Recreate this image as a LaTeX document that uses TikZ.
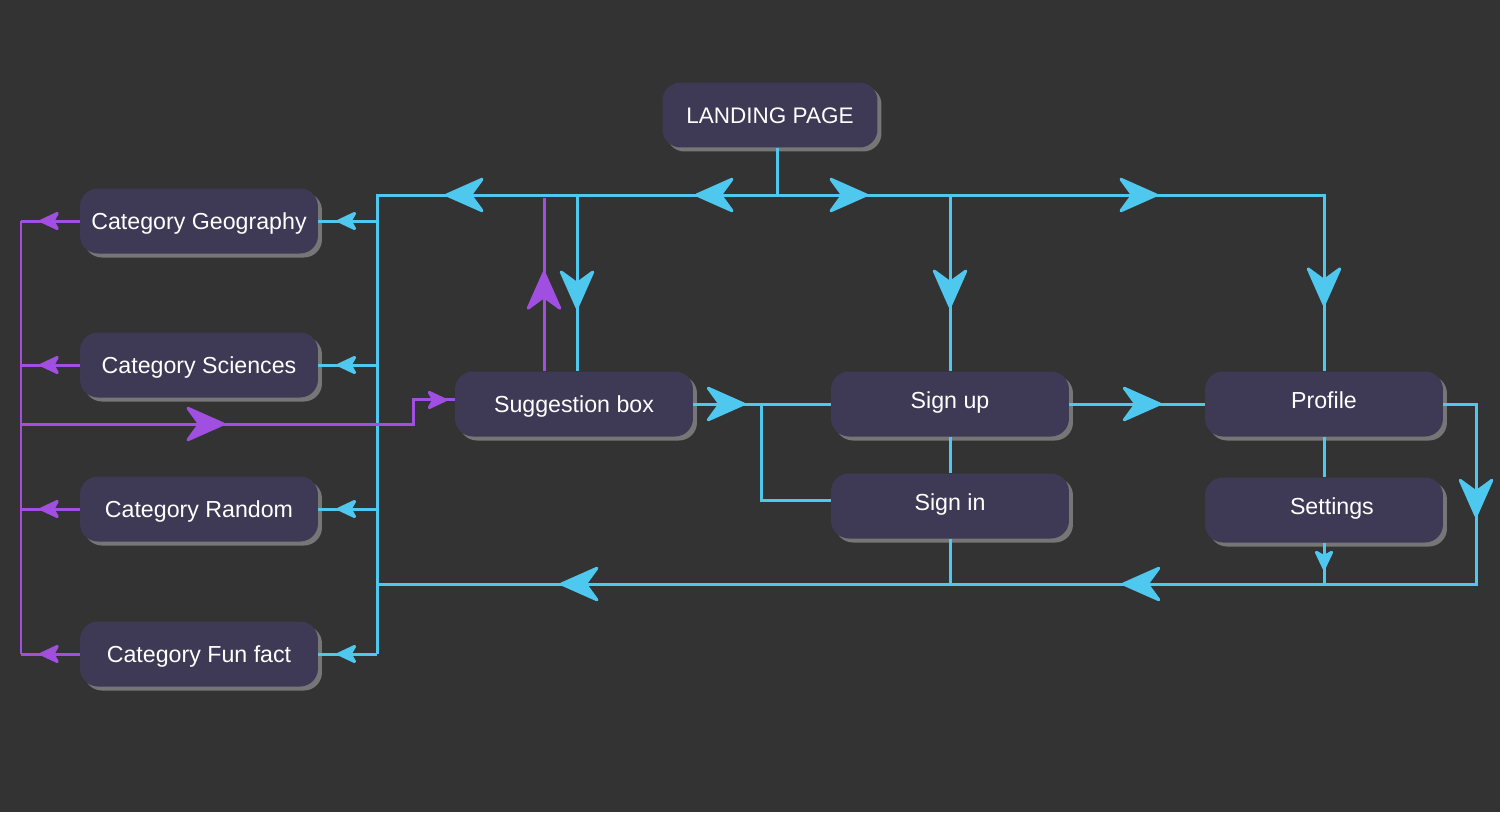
\documentclass[tikz,border=0pt]{standalone}
\usepackage{fontspec}
\setmainfont{Liberation Sans}
\usetikzlibrary{arrows.meta, decorations.markings, shadows}

\definecolor{bg}{HTML}{333333}
\definecolor{boxfill}{HTML}{3E3A55}
\definecolor{flowcyan}{HTML}{4FC8F0}
\definecolor{flowpurple}{HTML}{A04FE0}
\definecolor{shade}{HTML}{767676}

\tikzset{
  Big/.tip={Stealth[length=0.87cm, width=0.77cm, inset=0.28cm, round]},
  Small/.tip={Stealth[length=0.46cm, width=0.43cm, inset=0.12cm, round]},
  page/.style={fill=boxfill, rounded corners=0.36cm, minimum width=4.76cm, minimum height=1.3cm,
    text=white, font=\fontsize{13.2}{15}\selectfont, text height=10.2pt, text depth=0pt,
    drop shadow={shadow xshift=0.08cm, shadow yshift=-0.08cm, fill=shade, opacity=1}},
  pagehigh/.style={page, text depth=5pt},
  cyanline/.style={draw=flowcyan, line width=0.06cm},
  purpleline/.style={draw=flowpurple, line width=0.06cm},
  bigat/.style={postaction={decorate, decoration={markings, mark=at position #1 with {\arrow{Big}}}}},
  smallat/.style={postaction={decorate, decoration={markings, mark=at position #1 with {\arrow{Small}}}}},
}

\begin{document}
\begin{tikzpicture}[x=0.02cm, y=-0.02cm]
        % 背景
        \fill[bg] (0,0) rectangle (1500,812);

        % 页面节点
        \node[page, minimum width=4.3cm, font=\fontsize{12.8}{15}\selectfont] (landing) at (770,115) {LANDING PAGE};
        \node[page] (geo) at (199,221) {Category Geography};
        \node[page] (sci) at (199,365) {Category Sciences};
        \node[page] (rnd) at (199,509) {Category Random};
        \node[page] (fun) at (199,654) {Category Fun fact};
        \node[page] (sug) at (574,404) {Suggestion box};
        \node[pagehigh] (signup) at (950,404) {Sign up};
        \node[pagehigh] (signin) at (950,506) {Sign in};
        \node[pagehigh] (profile) at (1324,404) {Profile};
        \node[pagehigh] (settings) at (1324,510) {\hspace*{9pt}Settings};

        % 分支点
        \coordinate (lj) at (777,195);
        \coordinate (tl) at (377,195);
        \coordinate (tr) at (1324,195);
        \coordinate (bl) at (377,584);
        \coordinate (br) at (1476,584);
        \coordinate (sc) at (577,195);
        \coordinate (sp) at (544,198);
        \coordinate (sj) at (761,404);
        \coordinate (pt) at (21,221);
        \coordinate (pb) at (21,654);
        \coordinate (pj) at (413,424);

        % 顶部总线
        \draw[cyanline] (landing.south -| lj) -- (lj);
        \draw[cyanline, bigat=1.64cm, bigat=6.64cm] (lj) -- (tl) -- (tl |- fun);
        \foreach \c in {geo, sci, rnd, fun}
            \draw[cyanline, smallat=0.8cm] (tl |- \c) -- (\c.east);
        \draw[cyanline, bigat=1.82cm, bigat=7.62cm, bigat=13.16cm] (lj) -- (tr) -- (profile.north);
        \draw[cyanline, bigat=2.26cm] (lj -| signup) -- (signup.north);
        \draw[cyanline, bigat=2.28cm] (sc) -- (sc |- sug.north);

        % 中间一行
        \draw[cyanline, bigat=1.04cm] (sug.east) -- (signup.west);
        \draw[cyanline] (sj) |- ([yshift=3.4pt]signin.west);
        \draw[cyanline, bigat=1.84cm] (signup.east) -- (profile.west);
        \draw[cyanline] (signup.south) -- (signin.north);
        \draw[cyanline] (profile.south) -- (settings.north);

        % 底部回路
        \draw[cyanline] (signin.south) -- (signin.south |- bl);
        \draw[cyanline, smallat=0.54cm] (settings.south) -- (settings.south |- bl);
        \draw[cyanline, bigat=2.92cm, bigat=11.34cm, bigat=22.58cm] (profile.east) -| (br) -- (bl);

        % 紫色线路
        \draw[purpleline, bigat=2cm] (sp |- sug.north) -- (sp);
        \draw[purpleline] (pt) -- (pb);
        \foreach \c in {geo, sci, rnd, fun}
            \draw[purpleline, smallat=0.8cm] (\c.west) -- (pt |- \c);
        \draw[purpleline, bigat=4.08cm, smallat=9cm] (pt |- pj) -- (pj) |- ([yshift=2.3pt]sug.west);
\end{tikzpicture}
\end{document}
